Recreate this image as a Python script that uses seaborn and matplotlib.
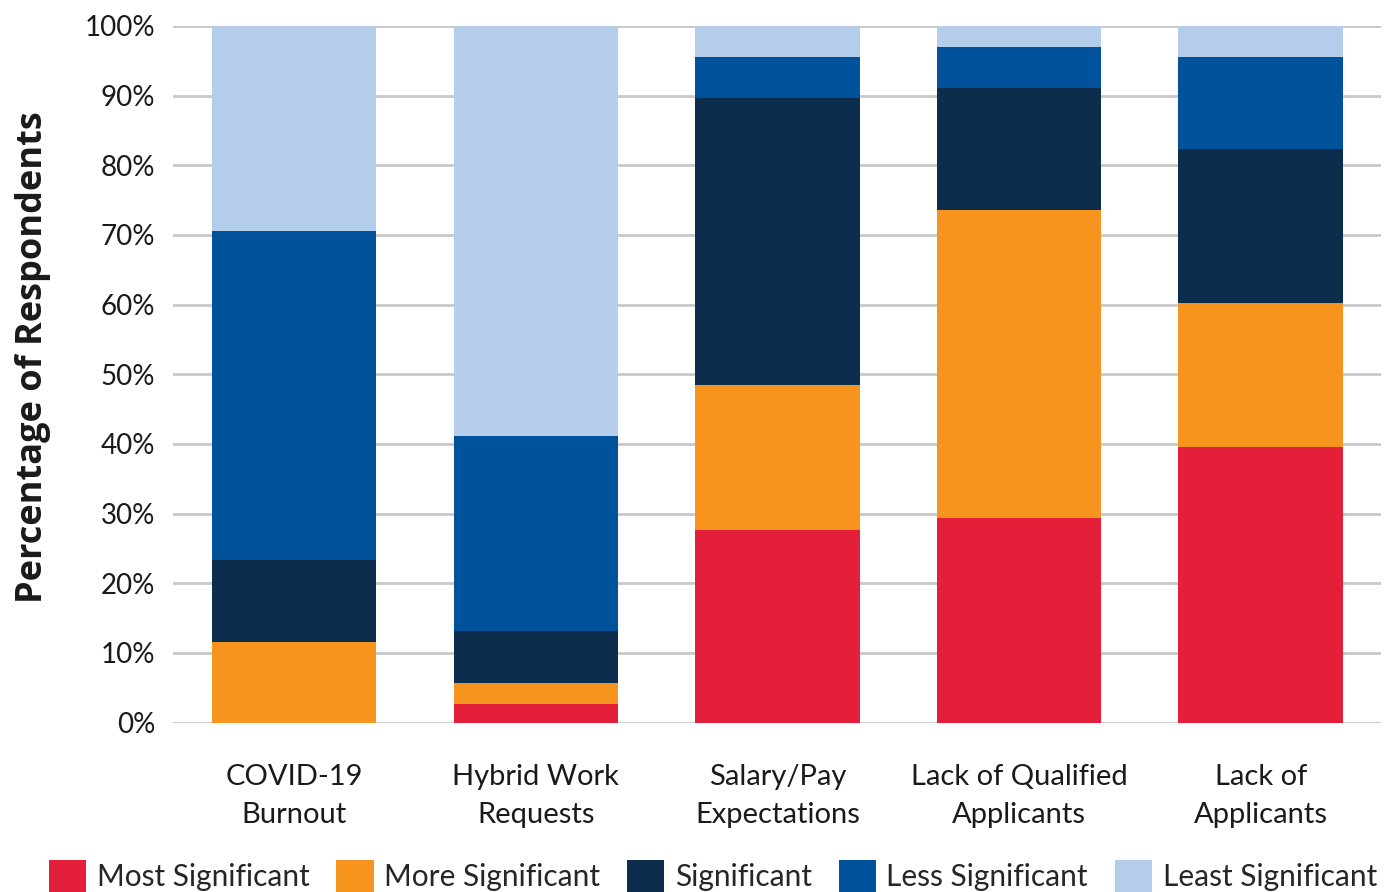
import numpy as np
import pandas as pd
import seaborn as sns
import matplotlib.pyplot as plt
from matplotlib.patches import Patch

# Values (percent of respondents)
categories = ['COVID-19\nBurnout', 'Hybrid Work\nRequests', 'Salary/Pay\nExpectations',
              'Lack of Qualified\nApplicants', 'Lack of\nApplicants']
levels = ['Most Significant', 'More Significant', 'Significant', 'Less Significant', 'Least Significant']
most_significant = [0.0, 2.7, 27.7, 29.3, 39.5]
more_significant = [11.6, 3.0, 20.7, 44.3, 20.7]
significant = [11.8, 7.5, 41.3, 17.5, 22.1]
less_significant = [47.1, 27.9, 5.8, 5.9, 13.2]
least_significant = [29.5, 58.9, 4.5, 3.0, 4.5]
colors = ['#E31F3A', '#F7941E', '#0D2D4C', '#00539B', '#B3CDEB']

series = [most_significant, more_significant, significant, less_significant, least_significant]

sns.set_theme(style='white')
plt.rcParams['font.family'] = ['Lato', 'DejaVu Sans']

fig, ax = plt.subplots(figsize=(13.87, 8.92), dpi=100)
fig.subplots_adjust(left=0.125, right=0.996, top=0.971, bottom=0.19)

bottom = np.zeros(len(categories))
for name, vals, col in zip(levels, series, colors):
    df = pd.DataFrame({'cat': categories, 'val': vals})
    sns.barplot(data=df, x='cat', y='val', color=col, bottom=bottom,
                width=0.68, saturation=1, linewidth=0, edgecolor='none', ax=ax, zorder=3)
    bottom += np.array(vals)

ax.set_ylim(0, 100)
ax.set_xlim(-0.5, 4.5)
ax.set_yticks(range(0, 101, 10))
ax.set_yticklabels([f'{v}%' for v in range(0, 101, 10)], fontsize=20, color='#1a1a1a')
ax.tick_params(axis='x', labelsize=21, colors='#1a1a1a', pad=30, length=0)
ax.tick_params(axis='y', length=0, pad=13)
for lbl in ax.get_xticklabels():
    lbl.set_linespacing(1.55)
ax.set_xlabel('')
ax.set_ylabel('Percentage of Respondents', fontsize=26, fontweight='bold', color='#1a1a1a',
              family=['Open Sans', 'DejaVu Sans'])
ax.yaxis.set_label_coords(-0.1015, 0.525)
ax.yaxis.grid(True, color='#C8C8C8', linewidth=2, zorder=0)
sns.despine(ax=ax, left=True, bottom=True)

handles = [Patch(facecolor=c, edgecolor='none') for c in colors]
fig.legend(handles, levels, loc='lower center', bbox_to_anchor=(0.514, -0.014), ncol=5,
           frameon=False, fontsize=21.5, handlelength=1.25, handleheight=1.3,
           handletextpad=0.35, columnspacing=0.9, borderaxespad=0)

fig.savefig('out.png', dpi=100)
